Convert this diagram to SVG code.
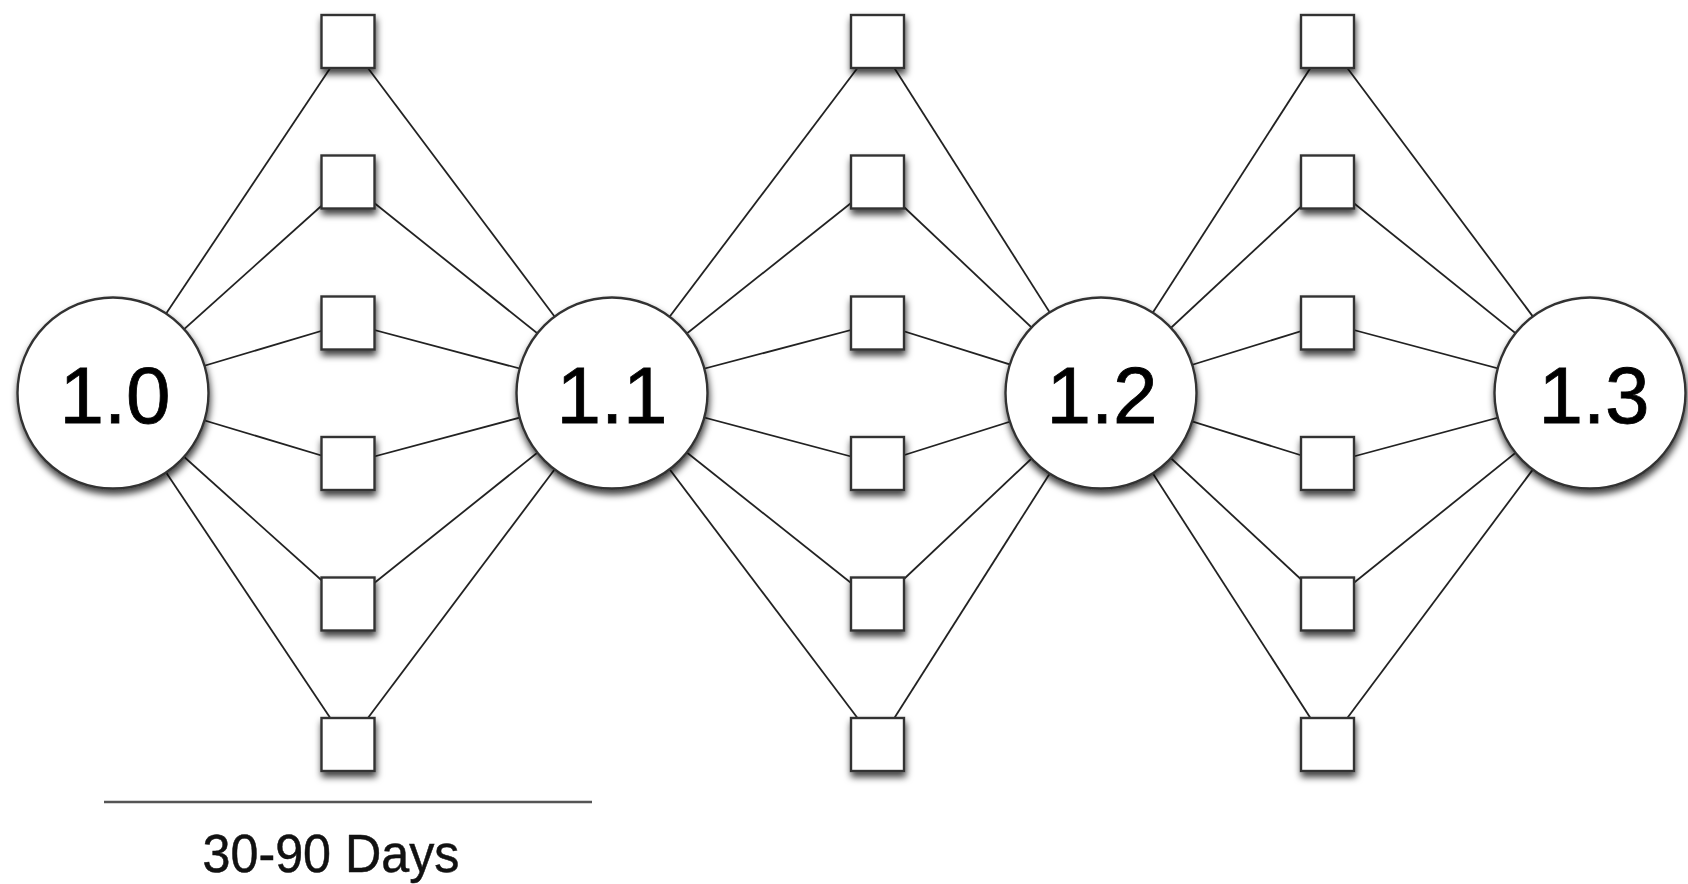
<svg xmlns="http://www.w3.org/2000/svg" width="1688" height="884" viewBox="0 0 1688 884">
  <defs>
    <filter id="shadow" x="-30%" y="-30%" width="160%" height="170%">
      <feDropShadow dx="1" dy="5" stdDeviation="3.5" flood-color="#000" flood-opacity="0.75"/>
    </filter>
  </defs>
  <style>
    .edge { stroke: #222; stroke-width: 1.8; fill: none; }
    .sq { fill: #fff; stroke: #333; stroke-width: 2.4; filter: url(#shadow); }
    .circ { fill: #fff; stroke: #333; stroke-width: 2.4; filter: url(#shadow); }
    .lbl { font-family: "Liberation Sans", Arial, sans-serif; font-size: 80px; fill: #000; stroke: #000; stroke-width: 0.8; text-anchor: middle; }
    .cap { font-family: "Liberation Sans", Arial, sans-serif; font-size: 53px; fill: #111; stroke: #111; stroke-width: 0.5; text-anchor: middle; }
  </style>
  <rect width="1688" height="884" fill="#fff"/>

  <g id="connectors">
    <!-- 1.0 to column 1 -->
    <line class="edge" x1="113" y1="393" x2="348" y2="41.5"/>
    <line class="edge" x1="113" y1="393" x2="348" y2="182"/>
    <line class="edge" x1="113" y1="393" x2="348" y2="323"/>
    <line class="edge" x1="113" y1="393" x2="348" y2="463.5"/>
    <line class="edge" x1="113" y1="393" x2="348" y2="604"/>
    <line class="edge" x1="113" y1="393" x2="348" y2="744.5"/>
    <!-- column 1 to 1.1 -->
    <line class="edge" x1="612" y1="393" x2="348" y2="41.5"/>
    <line class="edge" x1="612" y1="393" x2="348" y2="182"/>
    <line class="edge" x1="612" y1="393" x2="348" y2="323"/>
    <line class="edge" x1="612" y1="393" x2="348" y2="463.5"/>
    <line class="edge" x1="612" y1="393" x2="348" y2="604"/>
    <line class="edge" x1="612" y1="393" x2="348" y2="744.5"/>
    <!-- 1.1 to column 2 -->
    <line class="edge" x1="612" y1="393" x2="877.5" y2="41.5"/>
    <line class="edge" x1="612" y1="393" x2="877.5" y2="182"/>
    <line class="edge" x1="612" y1="393" x2="877.5" y2="323"/>
    <line class="edge" x1="612" y1="393" x2="877.5" y2="463.5"/>
    <line class="edge" x1="612" y1="393" x2="877.5" y2="604"/>
    <line class="edge" x1="612" y1="393" x2="877.5" y2="744.5"/>
    <!-- column 2 to 1.2 -->
    <line class="edge" x1="1101" y1="393" x2="877.5" y2="41.5"/>
    <line class="edge" x1="1101" y1="393" x2="877.5" y2="182"/>
    <line class="edge" x1="1101" y1="393" x2="877.5" y2="323"/>
    <line class="edge" x1="1101" y1="393" x2="877.5" y2="463.5"/>
    <line class="edge" x1="1101" y1="393" x2="877.5" y2="604"/>
    <line class="edge" x1="1101" y1="393" x2="877.5" y2="744.5"/>
    <!-- 1.2 to column 3 -->
    <line class="edge" x1="1101" y1="393" x2="1327.5" y2="41.5"/>
    <line class="edge" x1="1101" y1="393" x2="1327.5" y2="182"/>
    <line class="edge" x1="1101" y1="393" x2="1327.5" y2="323"/>
    <line class="edge" x1="1101" y1="393" x2="1327.5" y2="463.5"/>
    <line class="edge" x1="1101" y1="393" x2="1327.5" y2="604"/>
    <line class="edge" x1="1101" y1="393" x2="1327.5" y2="744.5"/>
    <!-- column 3 to 1.3 -->
    <line class="edge" x1="1590" y1="393" x2="1327.5" y2="41.5"/>
    <line class="edge" x1="1590" y1="393" x2="1327.5" y2="182"/>
    <line class="edge" x1="1590" y1="393" x2="1327.5" y2="323"/>
    <line class="edge" x1="1590" y1="393" x2="1327.5" y2="463.5"/>
    <line class="edge" x1="1590" y1="393" x2="1327.5" y2="604"/>
    <line class="edge" x1="1590" y1="393" x2="1327.5" y2="744.5"/>
  </g>

  <!-- column 1 squares -->
  <g id="s1-1"><rect class="sq" x="321.5" y="15" width="53" height="53"/></g>
  <g id="s1-2"><rect class="sq" x="321.5" y="155.5" width="53" height="53"/></g>
  <g id="s1-3"><rect class="sq" x="321.5" y="296.5" width="53" height="53"/></g>
  <g id="s1-4"><rect class="sq" x="321.5" y="437" width="53" height="53"/></g>
  <g id="s1-5"><rect class="sq" x="321.5" y="577.5" width="53" height="53"/></g>
  <g id="s1-6"><rect class="sq" x="321.5" y="718" width="53" height="53"/></g>
  <!-- column 2 squares -->
  <g id="s2-1"><rect class="sq" x="851" y="15" width="53" height="53"/></g>
  <g id="s2-2"><rect class="sq" x="851" y="155.5" width="53" height="53"/></g>
  <g id="s2-3"><rect class="sq" x="851" y="296.5" width="53" height="53"/></g>
  <g id="s2-4"><rect class="sq" x="851" y="437" width="53" height="53"/></g>
  <g id="s2-5"><rect class="sq" x="851" y="577.5" width="53" height="53"/></g>
  <g id="s2-6"><rect class="sq" x="851" y="718" width="53" height="53"/></g>
  <!-- column 3 squares -->
  <g id="s3-1"><rect class="sq" x="1301" y="15" width="53" height="53"/></g>
  <g id="s3-2"><rect class="sq" x="1301" y="155.5" width="53" height="53"/></g>
  <g id="s3-3"><rect class="sq" x="1301" y="296.5" width="53" height="53"/></g>
  <g id="s3-4"><rect class="sq" x="1301" y="437" width="53" height="53"/></g>
  <g id="s3-5"><rect class="sq" x="1301" y="577.5" width="53" height="53"/></g>
  <g id="s3-6"><rect class="sq" x="1301" y="718" width="53" height="53"/></g>

  <g id="v1-0">
    <circle class="circ" cx="113" cy="393" r="95.5"/>
    <text class="lbl" x="115" y="423">1.0</text>
  </g>
  <g id="v1-1">
    <circle class="circ" cx="612" cy="393" r="95.5"/>
    <text class="lbl" x="612" y="423">1.1</text>
  </g>
  <g id="v1-2">
    <circle class="circ" cx="1101" cy="393" r="95.5"/>
    <text class="lbl" x="1102" y="423">1.2</text>
  </g>
  <g id="v1-3">
    <circle class="circ" cx="1590" cy="393" r="95.5"/>
    <text class="lbl" x="1594" y="423">1.3</text>
  </g>

  <g id="scale">
    <line x1="104" y1="802" x2="592" y2="802" stroke="#555" stroke-width="2.5"/>
    <text class="cap" x="331" y="872" textLength="257" lengthAdjust="spacingAndGlyphs">30-90 Days</text>
  </g>
</svg>
